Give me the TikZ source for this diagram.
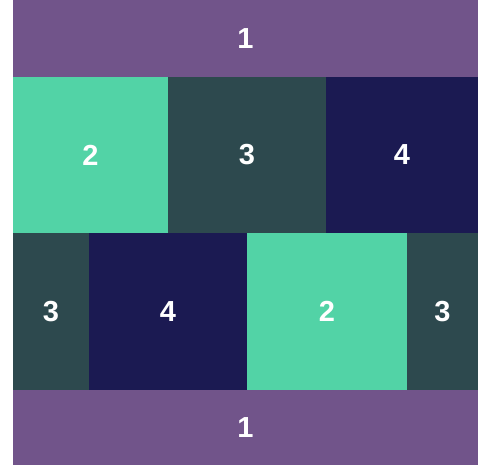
\documentclass[tikz,border=0pt]{standalone}
\usepackage{fontspec}
\setsansfont{Liberation Sans}
\usetikzlibrary{positioning}
\definecolor{BandPurple}{HTML}{71548A}
\definecolor{LightTeal}{HTML}{52D3A6}
\definecolor{DarkTeal}{HTML}{2D494E}
\definecolor{DeepNavy}{HTML}{1B1A52}
\tikzset{
  % Base cell
  cell/.style={rectangle,draw=none,inner sep=0pt,outer sep=0pt,anchor=north west,
               text=white,font=\sffamily\bfseries\fontsize{29}{29}\selectfont},
  % Colour variants
  cP/.style={cell,fill=BandPurple},
  cL/.style={cell,fill=LightTeal},
  cD/.style={cell,fill=DarkTeal},
  cN/.style={cell,fill=DeepNavy}
}
\begin{document}
\begin{tikzpicture}[x=1pt,y=-1pt]
  \fill[white] (0,0) rectangle (484,468);
  \useasboundingbox (0,0) rectangle (484,468);
  % top band
  \node[cP,minimum width=465pt,minimum height=77pt]  (bandtop) at (13,0) {1};
  % middle row one
  \node[cL,minimum width=155pt,minimum height=156pt] (ra) at (13,77) {2};
  \node[cD,minimum width=158pt,minimum height=156pt,right=0pt of ra] (rb) {3};
  \node[cN,minimum width=152pt,minimum height=156pt,right=0pt of rb] (rc) {4};
  % middle row two
  \node[cD,minimum width=76pt,minimum height=157pt]  (sa) at (13,233) {3};
  \node[cN,minimum width=158pt,minimum height=157pt,right=0pt of sa] (sb) {4};
  \node[cL,minimum width=160pt,minimum height=157pt,right=0pt of sb] (sc) {2};
  \node[cD,minimum width=71pt,minimum height=157pt,right=0pt of sc]  (sd) {3};
  % bottom band
  \node[cP,minimum width=465pt,minimum height=75pt]  (bandbot) at (13,390) {1};
\end{tikzpicture}
\end{document}
